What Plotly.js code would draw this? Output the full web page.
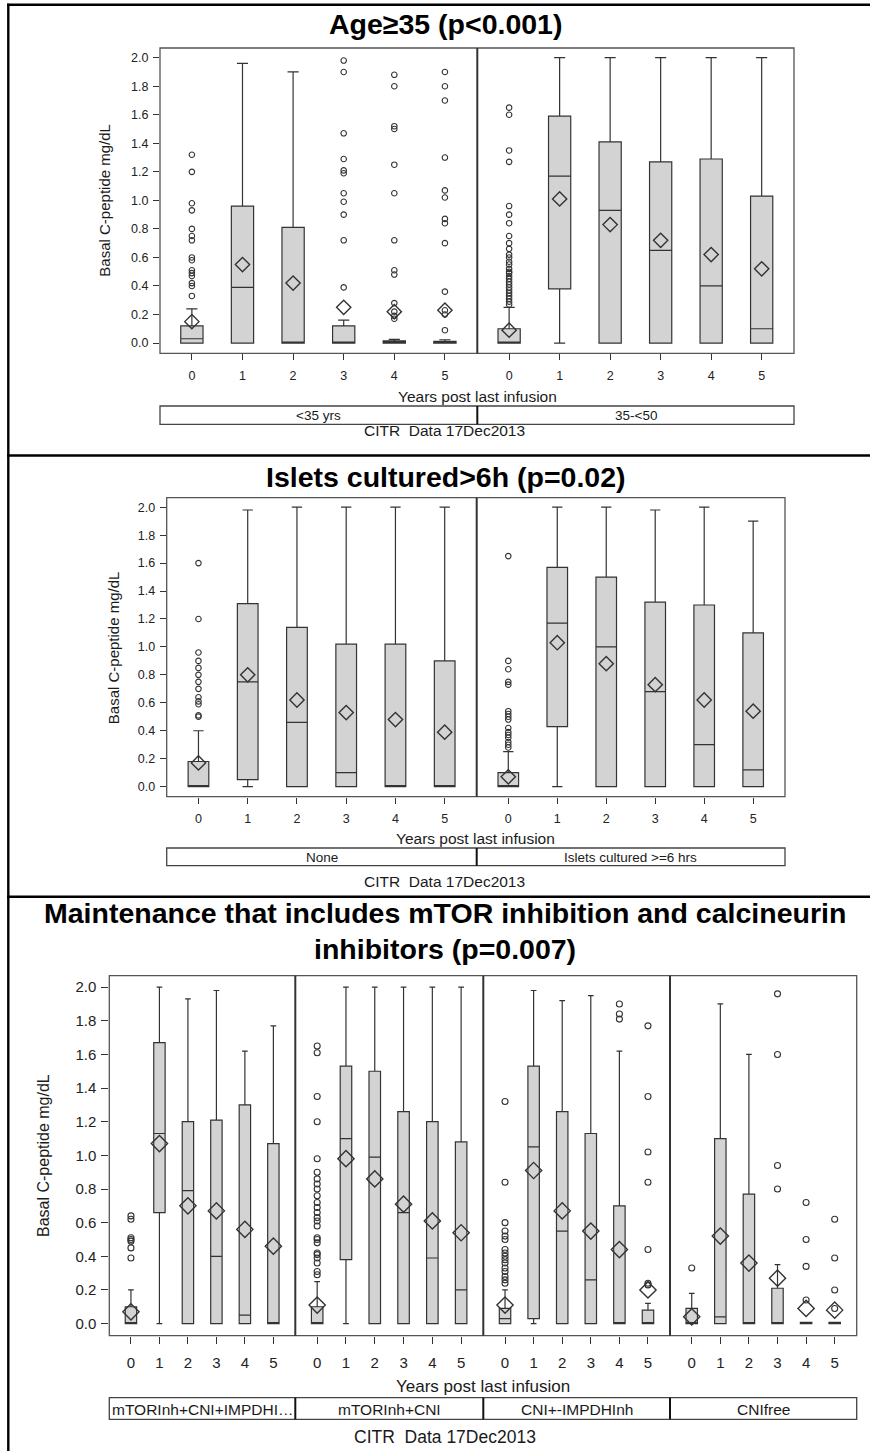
<!DOCTYPE html>
<html><head><meta charset="utf-8">
<script src="https://cdn.plot.ly/plotly-3.0.1.min.js"></script>
<style>html,body{margin:0;padding:0;background:#fff}#chart{width:870px;height:1451px}</style>
</head><body><div id="chart"></div>
<script>
// ---------- labels ----------
const years = [0, 1, 2, 3, 4, 5];
const yTickVals = [0, 0.2, 0.4, 0.6, 0.8, 1.0, 1.2, 1.4, 1.6, 1.8, 2.0];
const yTickText = ['0.0','0.2','0.4','0.6','0.8','1.0','1.2','1.4','1.6','1.8','2.0'];
const yTitle = 'Basal C-peptide mg/dL';
const xTitle = 'Years post last infusion';
const footnote = 'CITR  Data 17Dec2013';
const titleAge = 'Age≥35 (p&lt;0.001)';
const titleIslet = 'Islets cultured&gt;6h (p=0.02)';
const titleMaint1 = 'Maintenance that includes mTOR inhibition and calcineurin';
const titleMaint2 = 'inhibitors (p=0.007)';
const stripAge = ['&lt;35 yrs', '35-&lt;50'];
const stripIslet = ['None', 'Islets cultured &gt;=6 hrs'];
const stripMaint = ['mTORInh+CNI+IMPDHI…', 'mTORInh+CNI', 'CNI+-IMPDHInh', 'CNIfree'];

// ---------- Age panel: <35 yrs ----------
const ageLt35_q1   = [0, 0, 0, 0, 0, 0];
const ageLt35_med  = [0.03, 0.39, 0, 0, 0.005, 0.005];
const ageLt35_q3   = [0.12, 0.96, 0.81, 0.12, 0.015, 0.012];
const ageLt35_lo   = [0, 0, 0, 0, 0, 0];
const ageLt35_hi   = [0.24, 1.96, 1.90, 0.16, 0.025, 0.023];
const ageLt35_mean = [0.15, 0.55, 0.42, 0.25, 0.22, 0.23];
const ageLt35_out  = [
  [1.32,1.20,0.98,0.93,0.80,0.75,0.72,0.60,0.58,0.51,0.49,0.47,0.42,0.40,0.33],
  [], [],
  [1.98,1.90,1.47,1.29,1.21,1.19,1.05,0.99,0.90,0.72,0.39],
  [1.88,1.80,1.52,1.50,1.25,1.05,0.72,0.51,0.48,0.28,0.22,0.19,0.17],
  [1.90,1.80,1.70,1.30,1.07,1.02,0.87,0.84,0.70,0.36,0.23,0.20,0.09]
];
// ---------- Age panel: 35-<50 ----------
const age35_q1   = [0, 0.38, 0, 0, 0, 0];
const age35_med  = [0, 1.17, 0.93, 0.65, 0.40, 0.10];
const age35_q3   = [0.10, 1.59, 1.41, 1.27, 1.29, 1.03];
const age35_lo   = [0, 0, 0, 0, 0, 0];
const age35_hi   = [0.25, 2.0, 2.0, 2.0, 2.0, 2.0];
const age35_mean = [0.09, 1.01, 0.83, 0.72, 0.62, 0.52];
const age35_out  = [
  [1.65,1.60,1.35,1.27,0.96,0.90,0.84,0.75,0.70,0.66,0.62,0.60,0.57,0.55,0.52,0.50,0.49,0.47,0.45,0.43,0.41,0.39,0.37,0.35,0.33,0.31,0.29,0.27],
  [], [], [], [], []
];
// ---------- Islets panel: None ----------
const isNone_q1   = [0, 0.05, 0, 0, 0, 0];
const isNone_med  = [0, 0.75, 0.46, 0.10, 0, 0];
const isNone_q3   = [0.18, 1.31, 1.14, 1.02, 1.02, 0.90];
const isNone_lo   = [0, 0, 0, 0, 0, 0];
const isNone_hi   = [0.40, 1.98, 2.0, 2.0, 2.0, 2.0];
const isNone_mean = [0.17, 0.80, 0.62, 0.53, 0.48, 0.39];
const isNone_out  = [
  [1.60,1.20,0.96,0.90,0.85,0.80,0.75,0.70,0.64,0.61,0.59,0.51,0.50],
  [], [], [], [], []
];
// ---------- Islets panel: cultured >=6 hrs ----------
const is6h_q1   = [0, 0.43, 0, 0, 0, 0];
const is6h_med  = [0, 1.17, 1.00, 0.68, 0.30, 0.12];
const is6h_q3   = [0.10, 1.57, 1.50, 1.32, 1.30, 1.10];
const is6h_lo   = [0, 0, 0, 0, 0, 0];
const is6h_hi   = [0.25, 2.0, 2.0, 1.98, 2.0, 1.90];
const is6h_mean = [0.07, 1.03, 0.88, 0.73, 0.62, 0.54];
const is6h_out  = [
  [1.65,0.90,0.84,0.75,0.73,0.54,0.52,0.50,0.48,0.42,0.39,0.37,0.35,0.32,0.30,0.28],
  [], [], [], [], []
];
// ---------- Maintenance: mTORInh+CNI+IMPDHInh ----------
const mtCniImp_q1   = [0, 0.66, 0, 0, 0, 0];
const mtCniImp_med  = [0, 1.13, 0.79, 0.40, 0.05, 0];
const mtCniImp_q3   = [0.10, 1.67, 1.20, 1.21, 1.30, 1.07];
const mtCniImp_lo   = [0, 0, 0, 0, 0, 0];
const mtCniImp_hi   = [0.20, 2.0, 1.93, 1.98, 1.62, 1.77];
const mtCniImp_mean = [0.07, 1.07, 0.70, 0.67, 0.56, 0.46];
const mtCniImp_out  = [
  [0.64,0.62,0.51,0.50,0.49,0.45,0.39],
  [], [], [], [], []
];
// ---------- Maintenance: mTORInh+CNI ----------
const mtCni_q1   = [0, 0.38, 0, 0, 0, 0];
const mtCni_med  = [0, 1.10, 0.99, 0.66, 0.39, 0.20];
const mtCni_q3   = [0.10, 1.53, 1.50, 1.26, 1.20, 1.08];
const mtCni_lo   = [0, 0, 0, 0, 0, 0];
const mtCni_hi   = [0.25, 2.0, 2.0, 2.0, 2.0, 2.0];
const mtCni_mean = [0.11, 0.98, 0.86, 0.71, 0.61, 0.54];
const mtCni_out  = [
  [1.65,1.61,1.35,1.20,0.98,0.90,0.86,0.83,0.80,0.76,0.72,0.69,0.66,0.63,0.61,0.58,0.51,0.50,0.48,0.42,0.41,0.39,0.36,0.31,0.29],
  [], [], [], [], []
];
// ---------- Maintenance: CNI+-IMPDHInh ----------
const cniImp_q1   = [0, 0.03, 0, 0, 0, 0];
const cniImp_med  = [0.03, 1.05, 0.55, 0.26, 0, 0];
const cniImp_q3   = [0.09, 1.53, 1.26, 1.13, 0.70, 0.08];
const cniImp_lo   = [0, 0, 0, 0, 0, 0];
const cniImp_hi   = [0.20, 1.98, 1.92, 1.95, 1.62, 0.12];
const cniImp_mean = [0.11, 0.91, 0.67, 0.55, 0.44, 0.20];
const cniImp_out  = [
  [1.32,0.84,0.60,0.55,0.52,0.50,0.44,0.42,0.40,0.38,0.36,0.33,0.31,0.28,0.26,0.24],
  [], [], [],
  [1.90,1.84,1.81],
  [1.77,1.35,1.02,0.84,0.44,0.24,0.23]
];
// ---------- Maintenance: CNIfree ----------
const cniFree_q1   = [0, 0, 0, 0, 0, 0];
const cniFree_med  = [0, 0.04, 0, 0, 0, 0];
const cniFree_q3   = [0.09, 1.10, 0.77, 0.21, 0.008, 0.008];
const cniFree_lo   = [0, 0, 0, 0, 0, 0];
const cniFree_hi   = [0.18, 1.90, 1.60, 0.35, 0.008, 0.008];
const cniFree_mean = [0.04, 0.52, 0.36, 0.27, 0.09, 0.08];
const cniFree_out  = [
  [0.33], [], [],
  [1.96,1.60,0.94,0.80],
  [0.72,0.50,0.34,0.14],
  [0.62,0.39,0.20,0.09]
];

// ---------- build ----------
const grp = (q1, med, q3, lo, hi, mean, out) => ({q1, med, q3, lo, hi, mean, out});
const W = 870, H = 1451;
const PX = v => v / W, PY = v => 1 - v / H;
const F = 'Liberation Sans, Arial, sans-serif';
const INK = '#333';

const panels = [
  { groups: [grp(ageLt35_q1, ageLt35_med, ageLt35_q3, ageLt35_lo, ageLt35_hi, ageLt35_mean, ageLt35_out),
             grp(age35_q1, age35_med, age35_q3, age35_lo, age35_hi, age35_mean, age35_out)],
    strips: stripAge, top: 48, bot: 353.3, edges: [160, 477.3, 794], xr: [-0.63, 5.64],
    strip: [406, 424.3], xtY: 396.7, footY: 430.7, ytX: 105, tick: 12.5, lab: 13.5, foot: 15.5, axT: 15,
    xstd: 5, tlen: 6, box: 0.44, out: 5.5, dia: 11 },
  { groups: [grp(isNone_q1, isNone_med, isNone_q3, isNone_lo, isNone_hi, isNone_mean, isNone_out),
             grp(is6h_q1, is6h_med, is6h_q3, is6h_lo, is6h_hi, is6h_mean, is6h_out)],
    strips: stripIslet, top: 497.7, bot: 796.7, edges: [166.7, 476.7, 785], xr: [-0.645, 5.65],
    strip: [848, 865.7], xtY: 838.3, footY: 881.7, ytX: 113, tick: 12.5, lab: 13.5, foot: 15.5, axT: 15,
    xstd: 4, tlen: 6, box: 0.42, out: 5.5, dia: 11 },
  { groups: [grp(mtCniImp_q1, mtCniImp_med, mtCniImp_q3, mtCniImp_lo, mtCniImp_hi, mtCniImp_mean, mtCniImp_out),
             grp(mtCni_q1, mtCni_med, mtCni_q3, mtCni_lo, mtCni_hi, mtCni_mean, mtCni_out),
             grp(cniImp_q1, cniImp_med, cniImp_q3, cniImp_lo, cniImp_hi, cniImp_mean, cniImp_out),
             grp(cniFree_q1, cniFree_med, cniFree_q3, cniFree_lo, cniFree_hi, cniFree_mean, cniFree_out)],
    strips: stripMaint, top: 975.7, bot: 1335.7, edges: [109.3, 295.3, 483.3, 670, 856.7], xr: [-0.76, 5.77],
    strip: [1397.7, 1419.3], xtY: 1386.7, footY: 1436.7, ytX: 43.3, tick: 15, lab: 15.5, foot: 17.5, axT: 16,
    xstd: 6, tlen: 7, box: 0.40, out: 6, dia: 12.5 }
];

const traces = [];
const layout = {
  width: W, height: H, margin: {l: 0, r: 0, t: 0, b: 0},
  paper_bgcolor: '#fff', plot_bgcolor: '#fff', showlegend: false,
  shapes: [], annotations: []
};
const txt = (x, y, text, size, extra) => Object.assign({
  xref: 'paper', yref: 'paper', x: PX(x), y: PY(y), text, showarrow: false,
  xanchor: 'center', yanchor: 'middle', font: {family: F, size, color: '#1a1a1a'}
}, extra || {});

let xi = 0;
panels.forEach((P, pi) => {
  const yName = pi === 0 ? 'y' : 'y' + (pi + 1);
  const yKey = pi === 0 ? 'yaxis' : 'yaxis' + (pi + 1);
  const firstX = xi === 0 ? 'x' : 'x' + (xi + 1);
  layout[yKey] = {
    domain: [PY(P.bot), PY(P.top)], range: [-0.072, 2.068], anchor: firstX,
    tickmode: 'array', tickvals: yTickVals, ticktext: yTickText,
    ticks: 'outside', ticklen: P.tlen, tickwidth: 1, tickcolor: INK,
    showgrid: false, zeroline: false, showline: false, ticklabelstandoff: 2,
    tickfont: {family: F, size: P.tick, color: '#222'}, fixedrange: true
  };
  P.groups.forEach((g, gi) => {
    xi++;
    const xName = xi === 1 ? 'x' : 'x' + xi;
    const xKey = xi === 1 ? 'xaxis' : 'xaxis' + xi;
    layout[xKey] = {
      domain: [PX(P.edges[gi]), PX(P.edges[gi + 1])], range: P.xr, anchor: yName,
      tickmode: 'array', tickvals: years, ticktext: years.map(String),
      ticks: 'outside', ticklen: P.tlen, tickwidth: 1, tickcolor: INK,
      showgrid: false, zeroline: false, showline: false, ticklabelstandoff: P.xstd,
      tickfont: {family: F, size: P.tick, color: '#222'}, fixedrange: true
    };
    traces.push({
      type: 'box', orientation: 'v', x: years, q1: g.q1, median: g.med, q3: g.q3,
      lowerfence: g.lo, upperfence: g.hi, boxpoints: false, width: P.box, whiskerwidth: 0.5,
      fillcolor: '#d3d3d3', line: {color: INK, width: 1.2},
      xaxis: xName, yaxis: yName, hoverinfo: 'skip', showlegend: false
    });
    const ox = [], oy = [];
    g.out.forEach((arr, i) => arr.forEach(v => { ox.push(years[i]); oy.push(v); }));
    traces.push({
      type: 'scatter', mode: 'markers', x: ox, y: oy, xaxis: xName, yaxis: yName,
      marker: {symbol: 'circle-open', size: P.out, color: INK, line: {width: 1.1, color: INK}},
      hoverinfo: 'skip', showlegend: false
    });
    traces.push({
      type: 'scatter', mode: 'markers', x: years, y: g.mean, xaxis: xName, yaxis: yName,
      marker: {symbol: 'diamond-open', size: P.dia, color: INK, line: {width: 1.4, color: INK}},
      hoverinfo: 'skip', showlegend: false
    });
    // strip cell label
    layout.annotations.push(txt((P.edges[gi] + P.edges[gi + 1]) / 2, (P.strip[0] + P.strip[1]) / 2 + 0.5,
      P.strips[gi], P.lab));
  });
  const L = P.edges[0], R = P.edges[P.edges.length - 1];
  // plot frame
  layout.shapes.push({type: 'rect', xref: 'paper', yref: 'paper', x0: PX(L), x1: PX(R), y0: PY(P.bot), y1: PY(P.top),
    line: {color: '#555', width: 1.3}, fillcolor: 'rgba(0,0,0,0)'});
  // strip frame
  layout.shapes.push({type: 'rect', xref: 'paper', yref: 'paper', x0: PX(L), x1: PX(R), y0: PY(P.strip[1]), y1: PY(P.strip[0]),
    line: {color: '#444', width: 1.3}, fillcolor: '#fff', layer: 'below'});
  P.edges.slice(1, -1).forEach(e => {
    layout.shapes.push({type: 'line', xref: 'paper', yref: 'paper', x0: PX(e), x1: PX(e), y0: PY(P.bot), y1: PY(P.top),
      line: {color: '#333', width: 2}});
    layout.shapes.push({type: 'line', xref: 'paper', yref: 'paper', x0: PX(e), x1: PX(e), y0: PY(P.strip[1]), y1: PY(P.strip[0]),
      line: {color: '#111', width: 2}});
  });
  // axis titles and footnote
  layout.annotations.push(txt(P.ytX, (P.top + P.bot) / 2, yTitle, P.axT, {textangle: -90}));
  layout.annotations.push(txt((L + R) / 2, P.xtY, xTitle, P.axT + (pi === 2 ? 1 : 0.5)));
  layout.annotations.push(txt(444.5, P.footY, footnote, P.foot));
});

// panel titles
const tFont = {family: F, size: 28.5, color: '#000'};
layout.annotations.push(txt(445, 23.5, '<b>' + titleAge + '</b>', 28.5, {font: tFont}));
layout.annotations.push(txt(445.5, 476.5, '<b>' + titleIslet + '</b>', 28.5, {font: tFont}));
layout.annotations.push(txt(444.5, 913, '<b>' + titleMaint1 + '</b>', 28.5, {font: tFont}));
layout.annotations.push(txt(445, 949, '<b>' + titleMaint2 + '</b>', 28.5, {font: tFont}));

// outer borders and section dividers
const lineSh = (x0, y0, x1, y1, w) => ({type: 'line', xref: 'paper', yref: 'paper',
  x0: PX(x0), y0: PY(y0), x1: PX(x1), y1: PY(y1), line: {color: '#000', width: w}});
layout.shapes.push(lineSh(8.3, 3.7, 8.3, 1451, 2.4));
layout.shapes.push(lineSh(7, 4.7, 870, 4.7, 2.4));
layout.shapes.push(lineSh(7, 455.5, 870, 455.5, 2.6));
layout.shapes.push(lineSh(7, 896.7, 870, 896.7, 2.6));

Plotly.newPlot('chart', traces, layout, {displayModeBar: false, staticPlot: true});
</script>
</body></html>
